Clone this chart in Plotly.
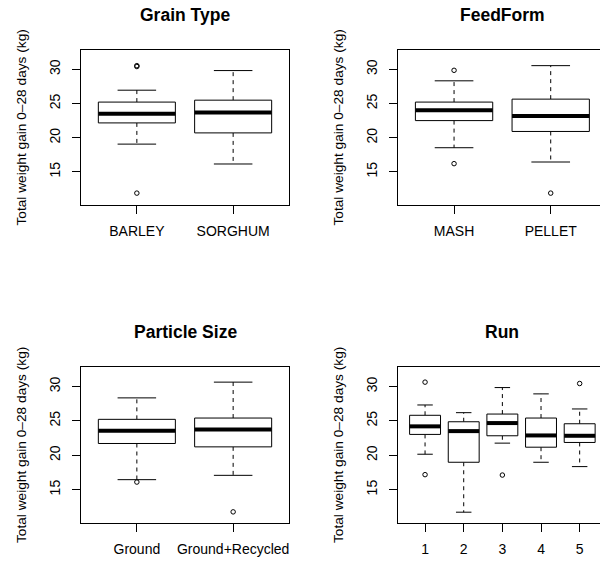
import plotly.graph_objects as go

# ---------------- data ----------------
ylabel = "Total weight gain 0\u201328 days (kg)"

grain_title = "Grain Type"
grain_cats = ["BARLEY", "SORGHUM"]
grain_q1 = [22.17, 20.71]
grain_med = [23.53, 23.68]
grain_q3 = [25.22, 25.50]
grain_lo = [19.07, 16.16]
grain_hi = [26.96, 29.83]
grain_out = [[30.42, 30.55, 11.90], []]

feed_title = "FeedForm"
feed_cats = ["MASH", "PELLET"]
feed_q1 = [22.51, 20.92]
feed_med = [24.01, 23.19]
feed_q3 = [25.22, 25.65]
feed_lo = [18.54, 16.45]
feed_hi = [28.33, 30.55]
feed_out = [[29.87, 16.21], [11.90]]

part_title = "Particle Size"
part_cats = ["Ground", "Ground+Recycled"]
part_q1 = [21.72, 21.23]
part_med = [23.57, 23.77]
part_q3 = [25.23, 25.42]
part_lo = [16.46, 17.09]
part_hi = [28.35, 30.64]
part_out = [[16.11], [11.78]]

run_title = "Run"
run_cats = ["1", "2", "3", "4", "5"]
run_q1 = [23.04, 18.99, 22.84, 21.18, 21.87]
run_med = [24.21, 23.52, 24.69, 22.89, 22.84]
run_q3 = [25.82, 24.88, 26.00, 25.42, 24.59]
run_lo = [20.16, 11.73, 21.77, 18.99, 18.36]
run_hi = [27.32, 26.20, 29.85, 28.93, 26.74]
run_out = [[30.64, 17.19], [], [17.13], [], [30.44]]

y_ticks = [15, 20, 25, 30]
ylim = [10.16, 32.84]

# ---------------- layout geometry ----------------
W, H = 600, 564
FONT = "Liberation Sans, Arial, Helvetica, sans-serif"
panels = [
    dict(title=grain_title, cats=grain_cats, q1=grain_q1, med=grain_med, q3=grain_q3,
         lo=grain_lo, hi=grain_hi, out=grain_out, px=(81, 289), py=(50, 205), xr=[0.42, 2.58], right=True),
    dict(title=feed_title, cats=feed_cats, q1=feed_q1, med=feed_med, q3=feed_q3,
         lo=feed_lo, hi=feed_hi, out=feed_out, px=(398, 600), py=(50, 205), xr=[0.42, 2.51], right=False),
    dict(title=part_title, cats=part_cats, q1=part_q1, med=part_med, q3=part_q3,
         lo=part_lo, hi=part_hi, out=part_out, px=(81, 289), py=(367, 523), xr=[0.42, 2.58], right=True),
    dict(title=run_title, cats=run_cats, q1=run_q1, med=run_med, q3=run_q3,
         lo=run_lo, hi=run_hi, out=run_out, px=(398, 600), py=(367, 523), xr=[0.3, 5.526], right=False),
]

fig = go.Figure()
annotations = []
BW = 0.4   # half box width
CW = 0.2   # half cap width

for i, p in enumerate(panels):
    sfx = "" if i == 0 else str(i + 1)
    xa, ya = "x" + sfx, "y" + sfx
    n = len(p["cats"])
    for k in range(n):
        xc = k + 1
        q1, md, q3, lo, hi = p["q1"][k], p["med"][k], p["q3"][k], p["lo"][k], p["hi"][k]
        # whiskers (dashed)
        fig.add_trace(go.Scatter(x=[xc, xc, None, xc, xc], y=[q3, hi, None, q1, lo],
                                 mode="lines", line=dict(color="black", width=1, dash="4px,4px"),
                                 xaxis=xa, yaxis=ya, showlegend=False, hoverinfo="skip"))
        # caps
        fig.add_trace(go.Scatter(x=[xc - CW, xc + CW, None, xc - CW, xc + CW],
                                 y=[hi, hi, None, lo, lo],
                                 mode="lines", line=dict(color="black", width=1),
                                 xaxis=xa, yaxis=ya, showlegend=False, hoverinfo="skip"))
        # box
        fig.add_trace(go.Scatter(x=[xc - BW, xc + BW, xc + BW, xc - BW, xc - BW],
                                 y=[q1, q1, q3, q3, q1], mode="lines",
                                 fill="toself", fillcolor="white",
                                 line=dict(color="black", width=1),
                                 xaxis=xa, yaxis=ya, showlegend=False, hoverinfo="skip"))
        # median
        fig.add_trace(go.Scatter(x=[xc - BW, xc + BW], y=[md, md], mode="lines",
                                 line=dict(color="black", width=4),
                                 xaxis=xa, yaxis=ya, showlegend=False, hoverinfo="skip"))
        # outliers
        if p["out"][k]:
            fig.add_trace(go.Scatter(x=[xc] * len(p["out"][k]), y=p["out"][k], mode="markers",
                                     marker=dict(symbol="circle-open", size=4.5, color="black",
                                                 line=dict(width=1, color="black")),
                                     xaxis=xa, yaxis=ya, showlegend=False, hoverinfo="skip"))

    x0, x1 = p["px"]
    y0, y1 = p["py"]
    dom_x = [x0 / W, x1 / W]
    dom_y = [1 - y1 / H, 1 - y0 / H]
    fig.layout["xaxis" + sfx] = dict(
        domain=dom_x, range=p["xr"], anchor=ya,
        tickvals=list(range(1, n + 1)), ticktext=p["cats"],
        ticks="outside", ticklen=8, tickcolor="black", tickwidth=1,
        showline=True, linecolor="black", linewidth=1, mirror=True,
        showgrid=False, zeroline=False, ticklabelstandoff=5,
        tickfont=dict(family=FONT, size=14, color="black"), fixedrange=True)
    fig.layout["yaxis" + sfx] = dict(
        domain=dom_y, range=ylim, anchor=xa,
        tickvals=y_ticks, ticktext=[str(t) for t in y_ticks], tickangle=-90,
        ticks="outside", ticklen=8, tickcolor="black", tickwidth=1,
        showline=True, linecolor="black", linewidth=1, mirror=p["right"],
        showgrid=False, zeroline=False, ticklabelstandoff=6,
        tickfont=dict(family=FONT, size=14, color="black"), fixedrange=True)

    # panel title
    full_w = 208.7
    cx = x0 + full_w / 2
    annotations.append(dict(text="<b>" + p["title"] + "</b>", xref="paper", yref="paper",
                            x=cx / W, y=1 - (y0 - 35) / H, xanchor="center", yanchor="middle",
                            showarrow=False, font=dict(family=FONT, size=17.5, color="black")))
    # y label
    lx = x0 - 60
    annotations.append(dict(text=ylabel, xref="paper", yref="paper", textangle=-90,
                            x=lx / W, y=1 - ((y0 + y1) / 2) / H, xanchor="center", yanchor="middle",
                            showarrow=False, font=dict(family=FONT, size=13.7, color="black")))

fig.update_layout(width=W, height=H, margin=dict(l=0, r=0, t=0, b=0),
                  paper_bgcolor="white", plot_bgcolor="white",
                  annotations=annotations, showlegend=False)

fig.write_html("out.html", config={"displayModeBar": False, "staticPlot": True},
               post_script="document.body.style.margin='0';document.body.style.padding='0';"
                           "document.body.style.overflow='hidden';")
